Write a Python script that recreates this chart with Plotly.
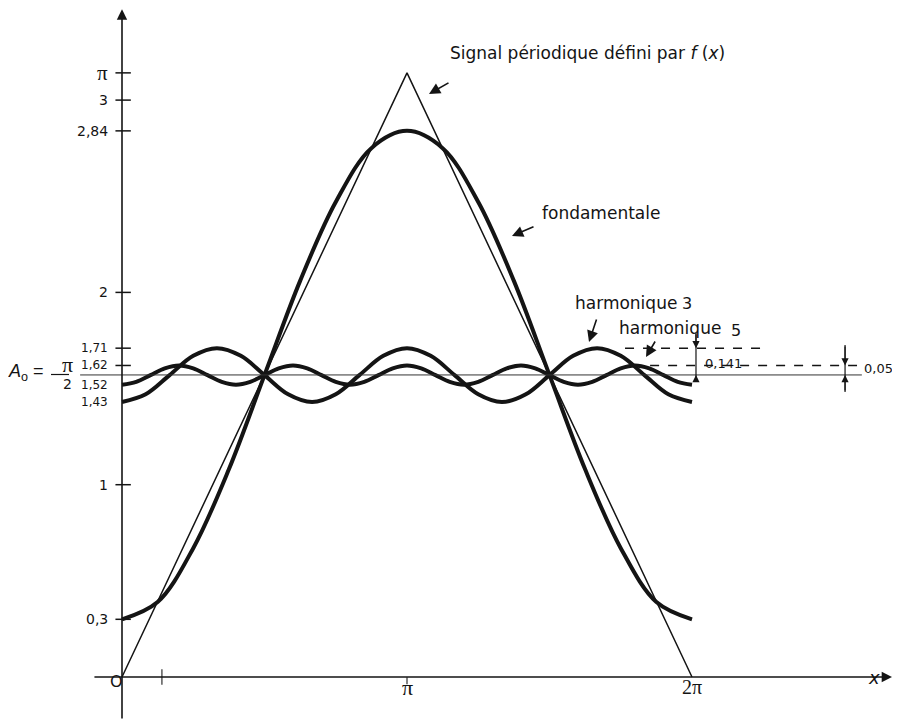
import plotly.graph_objects as go

# x values are in multiples of pi
tri_x = [0, 1, 2]
tri_y = [0, 3.1416, 0]

fund_x = [0, 0.125, 0.25, 0.375, 0.5, 0.625, 0.75, 0.875, 1.0,
          1.125, 1.25, 1.375, 1.5, 1.625, 1.75, 1.875, 2.0]
fund_y = [0.30, 0.39, 0.67, 1.08, 1.57, 2.06, 2.47, 2.75, 2.84,
          2.75, 2.47, 2.06, 1.57, 1.08, 0.67, 0.39, 0.30]

h3_x = [0, 0.083, 0.167, 0.25, 0.333, 0.417, 0.5, 0.583, 0.667, 0.75, 0.833, 0.917, 1.0,
        1.083, 1.167, 1.25, 1.333, 1.417, 1.5, 1.583, 1.667, 1.75, 1.833, 1.917, 2.0]
h3_y = [1.43, 1.47, 1.57, 1.67, 1.71, 1.67, 1.57, 1.47, 1.43, 1.47, 1.57, 1.67, 1.71,
        1.67, 1.57, 1.47, 1.43, 1.47, 1.57, 1.67, 1.71, 1.67, 1.57, 1.47, 1.43]

h5_x = [0, 0.05, 0.1, 0.15, 0.2, 0.25, 0.3, 0.35, 0.4, 0.45, 0.5, 0.55, 0.6, 0.65, 0.7,
        0.75, 0.8, 0.85, 0.9, 0.95, 1.0, 1.05, 1.1, 1.15, 1.2, 1.25, 1.3, 1.35, 1.4,
        1.45, 1.5, 1.55, 1.6, 1.65, 1.7, 1.75, 1.8, 1.85, 1.9, 1.95, 2.0]
h5_y = [1.52, 1.535, 1.57, 1.605, 1.62, 1.605, 1.57, 1.535, 1.52, 1.535, 1.57, 1.605, 1.62,
        1.605, 1.57, 1.535, 1.52, 1.535, 1.57, 1.605, 1.62, 1.605, 1.57, 1.535, 1.52, 1.535,
        1.57, 1.605, 1.62, 1.605, 1.57, 1.535, 1.52, 1.535, 1.57, 1.605, 1.62, 1.605, 1.57,
        1.535, 1.52]

a0 = 1.5708
h3_peak = 1.71
h5_peak = 1.62

ytick_vals = [3.1416, 3, 2.84, 2, 1.71, 1.62, 1, 0.3]
ylabel_vals = [3.1416, 3, 2.84, 2, 1.71, 1.62, 1.52, 1.43, 1, 0.3]
ylabel_text = ["π", "3", "2,84", "2", "1,71", "1,62", "1,52", "1,43", "1", "0,3"]

INK = "#141414"
SANS = "DejaVu Sans, Arial, sans-serif"
NARROW = "Liberation Sans, Arial, sans-serif"
SERIF = "Liberation Serif, Times New Roman, serif"

# the page body keeps an 8px margin, so the figure is 892x712 and sits at (8, 8);
# helpers take screen pixels
W, H, OFF = 892, 712, 8

def px(x):
    return (x - OFF) / W

def py(y):
    return 1 - (y - OFF) / H

fig = go.Figure()

fig.add_trace(go.Scatter(x=tri_x, y=tri_y, mode="lines",
                         line=dict(color=INK, width=1.5)))
fig.add_trace(go.Scatter(x=fund_x, y=fund_y, mode="lines",
                         line=dict(color=INK, width=4, shape="spline")))
fig.add_trace(go.Scatter(x=h3_x, y=h3_y, mode="lines",
                         line=dict(color=INK, width=4, shape="spline")))
fig.add_trace(go.Scatter(x=h5_x, y=h5_y, mode="lines",
                         line=dict(color=INK, width=4, shape="spline")))

# A0 line
fig.add_trace(go.Scatter(x=[-0.147, 2.596], y=[a0, a0], mode="lines",
                         line=dict(color="#333", width=1)))

# dashed peak levels
fig.add_trace(go.Scatter(x=[1.765, 2.239], y=[h3_peak, h3_peak], mode="lines",
                         line=dict(color=INK, width=1.5, dash="dash")))
fig.add_trace(go.Scatter(x=[1.853, 2.579], y=[h5_peak, h5_peak], mode="lines",
                         line=dict(color=INK, width=1.5, dash="dash")))

# tick marks
fig.add_trace(go.Scatter(x=[0.004] * len(ytick_vals), y=ytick_vals, mode="markers",
                         marker=dict(symbol="line-ew", size=11,
                                     line=dict(color=INK, width=1.5))))
fig.add_trace(go.Scatter(x=[0.14, 1.0], y=[0.0, -0.02], mode="markers",
                         marker=dict(symbol="line-ns", size=[11, 5],
                                     line=dict(color=INK, width=1.5))))

# dimension lines
for dx, top, bottom in [(2.014, 1.79, 1.534), (2.537, 1.726, 1.482)]:
    fig.add_trace(go.Scatter(x=[dx, dx], y=[top, bottom], mode="lines",
                             line=dict(color=INK, width=1.2)))
dims = [(2.014, 1.79, h3_peak), (2.014, 1.534, a0),
        (2.537, 1.726, h5_peak), (2.537, 1.482, a0)]
for dx, tail, tip in dims:
    fig.add_annotation(x=dx, y=tip, ax=dx, ay=tail, axref="x", ayref="y",
                       text="", showarrow=True, arrowhead=2, arrowsize=1.2,
                       arrowwidth=1.2, arrowcolor=INK, standoff=0)

# axes with arrows
fig.add_annotation(x=0, y=3.472, ax=0, ay=-0.224, axref="x", ayref="y",
                   text="", showarrow=True, arrowhead=2, arrowsize=1.3,
                   arrowwidth=1.6, arrowcolor=INK, standoff=0)
fig.add_annotation(x=2.702, y=0, ax=-0.102, ay=0, axref="x", ayref="y",
                   text="", showarrow=True, arrowhead=2, arrowsize=1.3,
                   arrowwidth=1.6, arrowcolor=INK, standoff=0)

# y tick labels
for v, t in zip(ylabel_vals, ylabel_text):
    small = t in ("1,71", "1,62", "1,52", "1,43")
    fam = SERIF if t == "π" else SANS
    size = 21 if t == "π" else (12 if small else 14)
    fig.add_annotation(xref="paper", yref="y", x=px(110), y=v, text=t,
                       showarrow=False, xanchor="right", yanchor="middle",
                       font=dict(family=fam, size=size, color=INK))

# x labels
fig.add_annotation(xref="paper", yref="paper", x=px(108), y=py(693), text="O",
                   showarrow=False, font=dict(family=SANS, size=16, color=INK))
fig.add_annotation(xref="x", yref="paper", x=1, y=py(702), text="π",
                   showarrow=False, font=dict(family=SERIF, size=22, color=INK))
fig.add_annotation(xref="x", yref="paper", x=2, y=py(700), text="2π",
                   showarrow=False, font=dict(family=SERIF, size=20, color=INK))
fig.add_annotation(xref="paper", yref="paper", x=px(882), y=py(690), text="<i>x</i>",
                   showarrow=False, font=dict(family=SANS, size=18, color=INK))

# A0 = pi/2 label
fig.add_annotation(xref="paper", yref="paper", x=px(46), y=py(373),
                   text="<i>A</i><sub>o</sub> =", showarrow=False, xanchor="right",
                   font=dict(family=NARROW, size=18, color=INK))
fig.add_annotation(xref="paper", yref="paper", x=px(60), y=py(364), text="π",
                   showarrow=False, font=dict(family=SERIF, size=22, color=INK))
fig.add_annotation(xref="paper", yref="paper", x=px(61), y=py(384), text="2",
                   showarrow=False, font=dict(family=SANS, size=14, color=INK))
fig.add_shape(type="line", xref="paper", yref="paper",
              x0=px(51), x1=px(69), y0=py(374.5), y1=py(374.5),
              line=dict(color=INK, width=1.2))

# curve captions with pointer arrows
captions = [
    ("Signal périodique défini par <i>f</i> (<i>x</i>)", 448, 53, (429, 94), (450, 82)),
    ("fondamentale", 540, 213, (512, 236), (535, 226)),
    ("harmonique", 573, 303, (589, 342), (597, 318)),
    ("harmonique", 617, 328, (646, 357), (656, 340)),
]
for text, lx, ly, tip, tail in captions:
    fig.add_annotation(xref="paper", yref="paper", x=px(lx), y=py(ly), text=text,
                       showarrow=False, xanchor="left", yanchor="middle",
                       font=dict(family=SANS, size=17, color=INK))
    fig.add_annotation(xref="paper", yref="paper", x=px(tip[0]), y=py(tip[1]),
                       ax=tail[0] - tip[0], ay=tail[1] - tip[1], text="",
                       showarrow=True, arrowhead=2, arrowsize=1.4, arrowwidth=1.6,
                       arrowcolor=INK, standoff=0)
# harmonic order numbers sit a little apart from the word
for num, nx, ny in [("3", 694, 303), ("5", 743, 330)]:
    fig.add_annotation(xref="paper", yref="paper", x=px(nx), y=py(ny), text=num,
                       showarrow=False, font=dict(family=SANS, size=16, color=INK))

# dimension values
fig.add_annotation(xref="paper", yref="paper", x=px(703), y=py(363), text="0,141",
                   showarrow=False, xanchor="left",
                   font=dict(family=SANS, size=13, color=INK))
fig.add_annotation(xref="paper", yref="paper", x=px(895), y=py(368), text="0,05",
                   showarrow=False, xanchor="right",
                   font=dict(family=SANS, size=13, color=INK))

fig.update_layout(
    width=W, height=H,
    margin=dict(l=0, r=0, t=0, b=0),
    paper_bgcolor="white", plot_bgcolor="white",
    showlegend=False,
    xaxis=dict(visible=False, range=[(OFF - 122) / 285, (900 - 122) / 285], fixedrange=True),
    yaxis=dict(visible=False, range=[(677 - 720) / 192.3, (677 - OFF) / 192.3], fixedrange=True),
    hovermode=False,
)

fig.write_html("out.html")
